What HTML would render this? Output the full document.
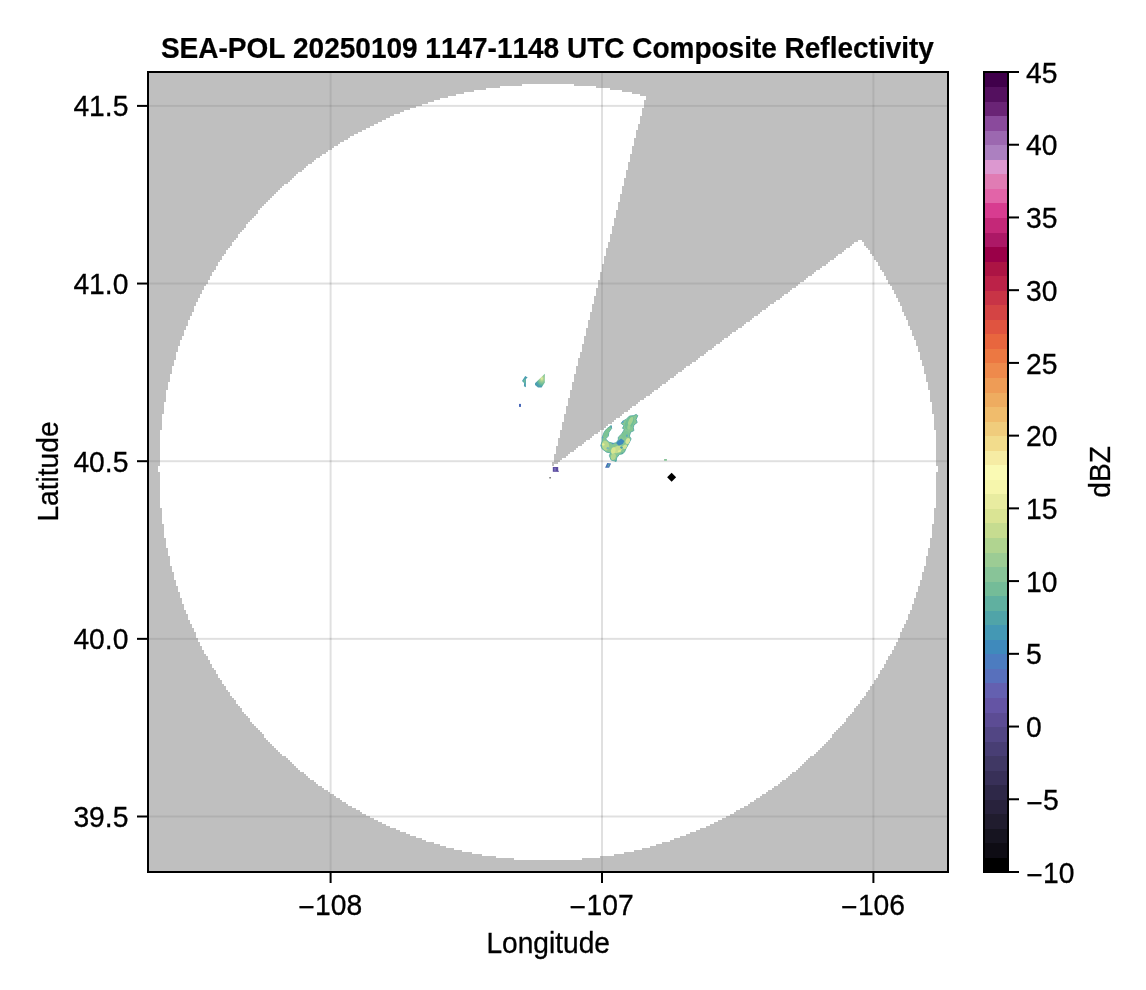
<!DOCTYPE html>
<html lang="en"><head><meta charset="utf-8"><title>SEA-POL Composite Reflectivity</title>
<style>
html,body{margin:0;padding:0;background:#fff;}
body{width:1146px;height:990px;overflow:hidden;}
svg{display:block;}
text{font-family:"Liberation Sans",Arial,Helvetica,sans-serif;font-size:28px;fill:#000;stroke:#000;stroke-width:0.3px;}
.b{font-weight:bold;font-kerning:none;stroke-width:0.2px;}
</style></head><body>
<svg width="1146" height="990" viewBox="0 0 1146 990">
<rect x="0" y="0" width="1146" height="990" fill="#fff"/>
<defs><clipPath id="ax"><rect x="148" y="72" width="800" height="800"/></clipPath>
<linearGradient id="g1" x1="0" y1="1" x2="1" y2="0"><stop offset="0" stop-color="#a8d48e"/><stop offset="0.45" stop-color="#8cc894"/><stop offset="1" stop-color="#74bc98"/></linearGradient>
<radialGradient id="g2" cx="0.7" cy="0.35" r="0.6"><stop offset="0" stop-color="#eef0a4"/><stop offset="0.3" stop-color="#a8d292"/><stop offset="0.75" stop-color="#62b89c"/><stop offset="1" stop-color="#4c9eb0"/></radialGradient>
<filter id="bl" x="-20%" y="-20%" width="140%" height="140%"><feGaussianBlur stdDeviation="0.7"/></filter><clipPath id="bc"><polygon points="636.1,414.4 637.8,415.6 636.1,419.4 637.2,422.5 633.9,425.0 633.3,427.8 633.9,430.6 630.6,432.2 629.4,436.1 631.1,438.9 628.9,443.3 626.1,448.3 624.4,452.2 622.2,453.9 619.4,454.4 616.7,457.8 616.1,461.4 611.1,460.0 609.4,455.6 610.6,452.8 606.7,452.2 602.2,448.9 600.8,445.6 602.2,441.1 602.2,437.2 604.4,431.7 606.7,428.9 611.1,425.6 611.7,428.3 608.9,432.2 608.3,436.1 605.6,438.9 608.9,442.2 613.3,443.3 616.1,442.8 618.3,440.0 618.3,437.2 621.7,433.9 624.4,429.4 622.5,428.3 623.9,425.6 621.1,423.3 622.8,421.1 626.1,419.4 629.4,416.1 633.9,415.6"/></clipPath>
</defs>
<rect x="329.60" y="72" width="2" height="800" fill="rgba(0,0,0,0.12)"/>
<rect x="601.00" y="72" width="2" height="800" fill="rgba(0,0,0,0.12)"/>
<rect x="872.40" y="72" width="2" height="800" fill="rgba(0,0,0,0.12)"/>
<rect x="148" y="104.90" width="800" height="2" fill="rgba(0,0,0,0.12)"/>
<rect x="148" y="282.55" width="800" height="2" fill="rgba(0,0,0,0.12)"/>
<rect x="148" y="460.20" width="800" height="2" fill="rgba(0,0,0,0.12)"/>
<rect x="148" y="637.85" width="800" height="2" fill="rgba(0,0,0,0.12)"/>
<rect x="148" y="815.50" width="800" height="2" fill="rgba(0,0,0,0.12)"/>
<g clip-path="url(#ax)">
<path fill-rule="evenodd" fill="rgba(128,128,128,0.5)" d="M148,72H948V872H148ZM522,84H574V86H522ZM500,86H596V88H500ZM486,88H610V90H486ZM474,90H622V92H474ZM464,92H632V94H464ZM456,94H640V96H456ZM448,96H646V98H448ZM440,98H646V100H440ZM434,100H644V102H434ZM428,102H644V104H428ZM422,104H644V106H422ZM416,106H644V108H416ZM410,108H642V110H410ZM404,110H642V112H404ZM400,112H642V114H400ZM394,114H642V116H394ZM390,116H640V118H390ZM386,118H640V120H386ZM382,120H640V122H382ZM378,122H640V124H378ZM374,124H638V126H374ZM370,126H638V128H370ZM366,128H638V130H366ZM362,130H636V132H362ZM358,132H636V134H358ZM354,134H636V136H354ZM350,136H636V138H350ZM348,138H634V140H348ZM344,140H634V142H344ZM340,142H634V144H340ZM338,144H634V146H338ZM334,146H632V148H334ZM332,148H632V150H332ZM328,150H632V152H328ZM326,152H632V154H326ZM322,154H630V156H322ZM320,156H630V158H320ZM316,158H630V160H316ZM314,160H630V162H314ZM312,162H628V164H312ZM308,164H628V166H308ZM306,166H628V168H306ZM304,168H628V170H304ZM302,170H626V172H302ZM298,172H626V174H298ZM296,174H626V176H296ZM294,176H626V178H294ZM292,178H624V180H292ZM290,180H624V182H290ZM288,182H624V184H288ZM284,184H624V186H284ZM282,186H622V188H282ZM280,188H622V190H280ZM278,190H622V192H278ZM276,192H622V194H276ZM274,194H620V196H274ZM272,196H620V198H272ZM270,198H620V200H270ZM268,200H620V202H268ZM266,202H618V204H266ZM264,204H618V206H264ZM262,206H618V208H262ZM260,208H618V210H260ZM258,210H616V214H258ZM256,214H616V216H256ZM254,216H616V218H254ZM252,218H614V220H252ZM250,220H614V222H250ZM248,222H614V224H248ZM246,224H614V226H246ZM246,226H612V228H246ZM244,228H612V230H244ZM242,230H612V232H242ZM240,232H612V234H240ZM238,234H610V238H238ZM236,238H610V240H236ZM234,240H610V242H234ZM858,240H862V242H858ZM232,242H608V244H232ZM854,242H864V244H854ZM232,244H608V246H232ZM852,244H864V246H852ZM230,246H608V248H230ZM850,246H866V248H850ZM228,248H606V250H228ZM846,248H868V250H846ZM226,250H606V252H226ZM844,250H870V252H844ZM226,252H606V254H226ZM842,252H870V254H842ZM224,254H606V256H224ZM838,254H872V256H838ZM222,256H604V258H222ZM836,256H874V258H836ZM222,258H604V260H222ZM834,258H874V260H834ZM220,260H604V262H220ZM830,260H876V262H830ZM218,262H604V264H218ZM828,262H878V264H828ZM218,264H602V266H218ZM826,264H878V266H826ZM216,266H602V268H216ZM822,266H880V268H822ZM216,268H602V270H216ZM820,268H880V270H820ZM214,270H602V272H214ZM816,270H882V272H816ZM212,272H600V274H212ZM814,272H884V274H814ZM212,274H600V276H212ZM812,274H884V276H812ZM210,276H600V278H210ZM808,276H886V278H808ZM210,278H600V280H210ZM806,278H886V280H806ZM208,280H598V282H208ZM804,280H888V282H804ZM208,282H598V284H208ZM800,282H888V284H800ZM206,284H598V286H206ZM798,284H890V286H798ZM204,286H598V288H204ZM796,286H892V288H796ZM204,288H596V290H204ZM792,288H892V290H792ZM202,290H596V292H202ZM790,290H894V292H790ZM202,292H596V294H202ZM788,292H894V294H788ZM200,294H596V296H200ZM784,294H896V296H784ZM200,296H594V298H200ZM782,296H896V298H782ZM198,298H594V300H198ZM780,298H898V300H780ZM198,300H594V302H198ZM776,300H898V302H776ZM196,302H594V304H196ZM774,302H900V304H774ZM196,304H592V306H196ZM770,304H900V306H770ZM194,306H592V308H194ZM768,306H902V308H768ZM194,308H592V310H194ZM766,308H902V310H766ZM194,310H592V312H194ZM762,310H902V312H762ZM192,312H590V314H192ZM760,312H904V314H760ZM192,314H590V316H192ZM758,314H904V316H758ZM190,316H590V318H190ZM754,316H906V318H754ZM190,318H590V320H190ZM752,318H906V320H752ZM188,320H588V322H188ZM750,320H908V322H750ZM188,322H588V324H188ZM746,322H908V324H746ZM188,324H588V326H188ZM744,324H908V326H744ZM186,326H588V328H186ZM742,326H910V328H742ZM186,328H586V330H186ZM738,328H910V330H738ZM184,330H586V332H184ZM736,330H912V332H736ZM184,332H586V334H184ZM732,332H912V334H732ZM184,334H586V336H184ZM730,334H912V336H730ZM182,336H584V338H182ZM728,336H914V338H728ZM182,338H584V340H182ZM724,338H914V340H724ZM180,340H584V342H180ZM722,340H916V342H722ZM180,342H584V344H180ZM720,342H916V344H720ZM180,344H582V346H180ZM716,344H916V346H716ZM178,346H582V348H178ZM714,346H918V348H714ZM178,348H582V350H178ZM712,348H918V350H712ZM178,350H582V352H178ZM708,350H918V352H708ZM176,352H580V354H176ZM706,352H920V354H706ZM176,354H580V356H176ZM704,354H920V356H704ZM176,356H580V358H176ZM700,356H920V358H700ZM176,358H578V360H176ZM698,358H920V360H698ZM174,360H578V362H174ZM696,360H922V362H696ZM174,362H578V364H174ZM692,362H922V364H692ZM174,364H578V366H174ZM690,364H922V366H690ZM172,366H576V368H172ZM686,366H924V368H686ZM172,368H576V370H172ZM684,368H924V370H684ZM172,370H576V372H172ZM682,370H924V372H682ZM172,372H576V374H172ZM678,372H924V374H678ZM170,374H574V376H170ZM676,374H926V376H676ZM170,376H574V378H170ZM674,376H926V378H674ZM170,378H574V380H170ZM670,378H926V380H670ZM170,380H574V382H170ZM668,380H926V382H668ZM168,382H572V384H168ZM666,382H928V384H666ZM168,384H572V386H168ZM662,384H928V386H662ZM168,386H572V388H168ZM660,386H928V388H660ZM168,388H572V390H168ZM658,388H928V390H658ZM166,390H570V392H166ZM654,390H930V392H654ZM166,392H570V394H166ZM652,392H930V394H652ZM166,394H570V396H166ZM650,394H930V396H650ZM166,396H570V398H166ZM646,396H930V398H646ZM166,398H568V400H166ZM644,398H930V400H644ZM166,400H568V402H166ZM640,400H930V402H640ZM164,402H568V404H164ZM638,402H932V404H638ZM164,404H568V406H164ZM636,404H932V406H636ZM164,406H566V408H164ZM632,406H932V408H632ZM164,408H566V410H164ZM630,408H932V410H630ZM164,410H566V412H164ZM628,410H932V412H628ZM164,412H566V414H164ZM624,412H932V414H624ZM162,414H564V416H162ZM622,414H934V416H622ZM162,416H564V418H162ZM620,416H934V418H620ZM162,418H564V420H162ZM616,418H934V420H616ZM162,420H564V422H162ZM614,420H934V422H614ZM162,422H562V424H162ZM612,422H934V424H612ZM162,424H562V426H162ZM608,424H934V426H608ZM162,426H562V428H162ZM606,426H934V428H606ZM162,428H562V430H162ZM604,428H934V430H604ZM160,430H560V432H160ZM600,430H936V432H600ZM160,432H560V434H160ZM598,432H936V434H598ZM160,434H560V436H160ZM594,434H936V436H594ZM160,436H560V438H160ZM592,436H936V438H592ZM160,438H558V440H160ZM590,438H936V440H590ZM160,440H558V442H160ZM586,440H936V442H586ZM160,442H558V444H160ZM584,442H936V444H584ZM160,444H558V446H160ZM582,444H936V446H582ZM160,446H556V448H160ZM578,446H936V448H578ZM160,448H556V450H160ZM576,448H936V450H576ZM160,450H556V452H160ZM574,450H936V452H574ZM160,452H556V454H160ZM570,452H936V454H570ZM160,454H554V456H160ZM568,454H936V456H568ZM160,456H554V458H160ZM566,456H936V458H566ZM160,458H554V460H160ZM562,458H936V460H562ZM160,460H554V462H160ZM560,460H936V462H560ZM160,462H552V464H160ZM558,462H936V464H558ZM160,464H552V466H160ZM554,464H936V466H554ZM158,466H938V472H158ZM160,472H936V508H160ZM162,508H934V524H162ZM164,524H932V538H164ZM166,538H930V548H166ZM168,548H928V556H168ZM170,556H926V566H170ZM172,566H924V572H172ZM174,572H922V580H174ZM176,580H920V586H176ZM178,586H918V592H178ZM180,592H916V598H180ZM182,598H914V604H182ZM184,604H912V610H184ZM186,610H910V614H186ZM188,614H908V620H188ZM190,620H906V624H190ZM192,624H904V628H192ZM194,628H902V632H194ZM196,632H900V638H196ZM198,638H898V642H198ZM200,642H896V646H200ZM202,646H894V650H202ZM204,650H892V654H204ZM206,654H890V656H206ZM208,656H888V660H208ZM210,660H886V664H210ZM212,664H884V668H212ZM214,668H882V670H214ZM216,670H880V674H216ZM218,674H878V678H218ZM220,678H876V680H220ZM222,680H874V684H222ZM224,684H872V686H224ZM226,686H870V690H226ZM228,690H868V692H228ZM230,692H866V696H230ZM232,696H864V698H232ZM234,698H862V700H234ZM236,700H860V704H236ZM238,704H858V706H238ZM240,706H856V708H240ZM242,708H854V712H242ZM244,712H852V714H244ZM246,714H850V716H246ZM248,716H848V718H248ZM250,718H846V722H250ZM252,722H844V724H252ZM254,724H842V726H254ZM256,726H840V728H256ZM258,728H838V730H258ZM260,730H836V732H260ZM262,732H834V734H262ZM264,734H832V738H264ZM266,738H830V740H266ZM268,740H828V742H268ZM270,742H826V744H270ZM272,744H824V746H272ZM274,746H822V748H274ZM276,748H820V750H276ZM278,750H818V752H278ZM280,752H816V754H280ZM282,754H814V756H282ZM286,756H810V758H286ZM288,758H808V760H288ZM290,760H806V762H290ZM292,762H804V764H292ZM294,764H802V766H294ZM296,766H800V768H296ZM298,768H798V770H298ZM300,770H796V772H300ZM304,772H792V774H304ZM306,774H790V776H306ZM308,776H788V778H308ZM310,778H786V780H310ZM314,780H782V782H314ZM316,782H780V784H316ZM318,784H778V786H318ZM322,786H774V788H322ZM324,788H772V790H324ZM328,790H768V792H328ZM330,792H766V794H330ZM334,794H762V796H334ZM336,796H760V798H336ZM340,798H756V800H340ZM342,800H754V802H342ZM346,802H750V804H346ZM348,804H748V806H348ZM352,806H744V808H352ZM356,808H740V810H356ZM360,810H736V812H360ZM362,812H734V814H362ZM366,814H730V816H366ZM370,816H726V818H370ZM374,818H722V820H374ZM378,820H718V822H378ZM382,822H714V824H382ZM386,824H710V826H386ZM390,826H706V828H390ZM396,828H700V830H396ZM400,830H696V832H400ZM406,832H690V834H406ZM410,834H686V836H410ZM416,836H680V838H416ZM422,838H674V840H422ZM426,840H670V842H426ZM434,842H662V844H434ZM440,844H656V846H440ZM446,846H650V848H446ZM454,848H642V850H454ZM462,850H634V852H462ZM472,852H624V854H472ZM482,854H614V856H482ZM496,856H600V858H496ZM514,858H582V860H514Z"/>
<polygon points="636.1,414.4 637.8,415.6 636.1,419.4 637.2,422.5 633.9,425.0 633.3,427.8 633.9,430.6 630.6,432.2 629.4,436.1 631.1,438.9 628.9,443.3 626.1,448.3 624.4,452.2 622.2,453.9 619.4,454.4 616.7,457.8 616.1,461.4 611.1,460.0 609.4,455.6 610.6,452.8 606.7,452.2 602.2,448.9 600.8,445.6 602.2,441.1 602.2,437.2 604.4,431.7 606.7,428.9 611.1,425.6 611.7,428.3 608.9,432.2 608.3,436.1 605.6,438.9 608.9,442.2 613.3,443.3 616.1,442.8 618.3,440.0 618.3,437.2 621.7,433.9 624.4,429.4 622.5,428.3 623.9,425.6 621.1,423.3 622.8,421.1 626.1,419.4 629.4,416.1 633.9,415.6" fill="#86c694" stroke="#56aaa4" stroke-width="0.9" stroke-linejoin="round"/>
<g clip-path="url(#bc)"><g filter="url(#bl)">
<ellipse cx="629.4" cy="422.8" rx="3.89" ry="7.22" fill="#6fbf96" opacity="1" transform="rotate(25 629.4 422.8)"/>
<ellipse cx="630.6" cy="421.1" rx="1.94" ry="4.44" fill="#a4d292" opacity="1" transform="rotate(25 630.6 421.1)"/>
<ellipse cx="628.9" cy="427.2" rx="1.67" ry="2.50" fill="#98ce92" opacity="1" transform="rotate(10 628.9 427.2)"/>
<ellipse cx="625.0" cy="434.4" rx="3.89" ry="2.78" fill="#7cc494" opacity="1" transform="rotate(-30 625.0 434.4)"/>
<ellipse cx="627.8" cy="441.1" rx="2.22" ry="3.06" fill="#d6e69a" opacity="1" transform="rotate(20 627.8 441.1)"/>
<ellipse cx="625.0" cy="446.7" rx="2.50" ry="1.94" fill="#cfe294" opacity="1" transform="rotate(-30 625.0 446.7)"/>
<ellipse cx="617.2" cy="449.4" rx="6.11" ry="3.33" fill="#c4dc8e" opacity="1" transform="rotate(-25 617.2 449.4)"/>
<ellipse cx="613.3" cy="450.6" rx="2.22" ry="3.33" fill="#d8e690" opacity="1" transform="rotate(10 613.3 450.6)"/>
<ellipse cx="619.4" cy="451.1" rx="1.67" ry="1.11" fill="#e0ea92" opacity="1" transform="rotate(-20 619.4 451.1)"/>
<ellipse cx="613.3" cy="456.7" rx="2.50" ry="3.33" fill="#b4d68e" opacity="1" transform="rotate(15 613.3 456.7)"/>
<ellipse cx="605.6" cy="445.6" rx="3.61" ry="5.00" fill="#b6d88e" opacity="1" transform="rotate(-15 605.6 445.6)"/>
<ellipse cx="603.3" cy="444.4" rx="1.22" ry="1.22" fill="#e6ee92" opacity="1" transform="rotate(0 603.3 444.4)"/>
<ellipse cx="607.8" cy="448.3" rx="1.22" ry="1.22" fill="#7ab8b4" opacity="1" transform="rotate(0 607.8 448.3)"/>
<ellipse cx="606.9" cy="432.2" rx="1.94" ry="5.28" fill="#7cc494" opacity="1" transform="rotate(25 606.9 432.2)"/>
</g></g>
<ellipse cx="626.9" cy="435.8" rx="0.89" ry="1.22" fill="#5aa6c0" opacity="1" transform="rotate(0 626.9 435.8)"/>
<ellipse cx="622.8" cy="421.9" rx="0.89" ry="1.22" fill="#5aa6c8" opacity="1" transform="rotate(0 622.8 421.9)"/>
<ellipse cx="611.1" cy="426.7" rx="0.56" ry="1.22" fill="#4a9ab8" opacity="1" transform="rotate(20 611.1 426.7)"/>
<ellipse cx="602.8" cy="437.5" rx="0.78" ry="0.78" fill="#5aa0c0" opacity="1" transform="rotate(0 602.8 437.5)"/>
<ellipse cx="615.8" cy="460.8" rx="0.67" ry="0.78" fill="#48a0a8" opacity="1" transform="rotate(0 615.8 460.8)"/>
<ellipse cx="622.2" cy="453.1" rx="0.89" ry="0.67" fill="#48a0a0" opacity="1" transform="rotate(0 622.2 453.1)"/>
<ellipse cx="612.8" cy="443.6" rx="1.22" ry="0.67" fill="#4a94c0" opacity="1" transform="rotate(0 612.8 443.6)"/>
<ellipse cx="601.4" cy="445.8" rx="0.44" ry="0.78" fill="#5a90c8" opacity="1" transform="rotate(0 601.4 445.8)"/>
<polygon points="621.1,438.6 624.4,441.1 622.8,443.9 618.9,445.8 616.1,443.3 617.8,441.1" fill="#3f8abc" />
<polygon points="621.0,446.0 623.0,447.5 621.8,449.0 620.0,447.8" fill="#48a0a8" />
<polygon points="525.2,375.9 527.7,377.4 525.9,379.1 525.9,387.2 523.9,386.2 524.1,382.9 522.0,380.9" fill="#4a9eb0" />
<polygon points="525.3,378.3 525.4,384.0 524.6,383.0 523.0,380.9" fill="#6cbc9c" />
<polygon points="544.8,373.8 544.8,382.4 541.6,387.5 538.0,387.5 535.0,384.9 535.0,383.2" fill="url(#g2)" />
<rect x="519" y="403.9" width="2" height="3" fill="#4868b8"/>
<rect x="552.8" y="467" width="5.4" height="4.8" fill="#5c4ca0"/>
<rect x="554.2" y="467.8" width="1.6" height="3" fill="#7c74c0"/>
<rect x="557.6" y="470.8" width="1.2" height="1" fill="#5c4ca0"/>
<rect x="549.4" y="477.2" width="1.4" height="1.2" fill="#404040"/>
<polygon points="607.2,463.0 611.1,463.4 609.1,467.7 605.1,467.7" fill="#4470b8" />
<polygon points="608.3,464.2 609.8,464.4 608.6,466.4 607.3,466.4" fill="#60b0a0" />
<rect x="664.1" y="459" width="2.8" height="1.8" fill="#88c498"/>
</g>
<polygon points="671.6,472.8 676.1,477.3 671.6,481.8 667.1,477.3" fill="#000"/>
<rect x="148" y="72" width="800" height="800" fill="none" stroke="#000" stroke-width="2"/>
<rect x="329.60" y="873" width="2" height="10" fill="#000"/>
<text transform="translate(330.1,914.6) scale(1.01,1.05)" text-anchor="middle"><tspan dy="2.5">−</tspan><tspan dy="-2.5" dx="0.6">108</tspan></text>
<rect x="601.00" y="873" width="2" height="10" fill="#000"/>
<text transform="translate(601.5,914.6) scale(1.01,1.05)" text-anchor="middle"><tspan dy="2.5">−</tspan><tspan dy="-2.5" dx="0.6">107</tspan></text>
<rect x="872.40" y="873" width="2" height="10" fill="#000"/>
<text transform="translate(872.9,914.6) scale(1.01,1.05)" text-anchor="middle"><tspan dy="2.5">−</tspan><tspan dy="-2.5" dx="0.6">106</tspan></text>
<rect x="137" y="104.90" width="10" height="2" fill="#000"/>
<text transform="translate(128.4,116.4) scale(1.01,1.05)" text-anchor="end">41.5</text>
<rect x="137" y="282.55" width="10" height="2" fill="#000"/>
<text transform="translate(128.4,294.0) scale(1.01,1.05)" text-anchor="end">41.0</text>
<rect x="137" y="460.20" width="10" height="2" fill="#000"/>
<text transform="translate(128.4,471.7) scale(1.01,1.05)" text-anchor="end">40.5</text>
<rect x="137" y="637.85" width="10" height="2" fill="#000"/>
<text transform="translate(128.4,649.4) scale(1.01,1.05)" text-anchor="end">40.0</text>
<rect x="137" y="815.50" width="10" height="2" fill="#000"/>
<text transform="translate(128.4,827.0) scale(1.01,1.05)" text-anchor="end">39.5</text>
<text class="b" transform="translate(547.4,57.7) scale(1,1.075)" text-anchor="middle" textLength="773" lengthAdjust="spacingAndGlyphs">SEA-POL 20250109 1147-1148 UTC Composite Reflectivity</text>
<text transform="translate(548.2,953.2) scale(1.005,1.035)" text-anchor="middle">Longitude</text>
<text transform="translate(58.2,471.5) rotate(-90) scale(1.005,1.035)" text-anchor="middle">Latitude</text>
<rect x="984" y="857.45" width="24" height="15.05" fill="#000000" shape-rendering="crispEdges"/>
<rect x="984" y="842.91" width="24" height="15.05" fill="#0e0c14" shape-rendering="crispEdges"/>
<rect x="984" y="828.36" width="24" height="15.05" fill="#161420" shape-rendering="crispEdges"/>
<rect x="984" y="813.82" width="24" height="15.05" fill="#201c2e" shape-rendering="crispEdges"/>
<rect x="984" y="799.27" width="24" height="15.05" fill="#28223c" shape-rendering="crispEdges"/>
<rect x="984" y="784.73" width="24" height="15.05" fill="#2e2848" shape-rendering="crispEdges"/>
<rect x="984" y="770.18" width="24" height="15.05" fill="#383058" shape-rendering="crispEdges"/>
<rect x="984" y="755.64" width="24" height="15.05" fill="#403864" shape-rendering="crispEdges"/>
<rect x="984" y="741.09" width="24" height="15.05" fill="#483e74" shape-rendering="crispEdges"/>
<rect x="984" y="726.55" width="24" height="15.05" fill="#524684" shape-rendering="crispEdges"/>
<rect x="984" y="712.00" width="24" height="15.05" fill="#5c4c94" shape-rendering="crispEdges"/>
<rect x="984" y="697.45" width="24" height="15.05" fill="#6454a4" shape-rendering="crispEdges"/>
<rect x="984" y="682.91" width="24" height="15.05" fill="#6460b0" shape-rendering="crispEdges"/>
<rect x="984" y="668.36" width="24" height="15.05" fill="#5870bc" shape-rendering="crispEdges"/>
<rect x="984" y="653.82" width="24" height="15.05" fill="#4c7cc0" shape-rendering="crispEdges"/>
<rect x="984" y="639.27" width="24" height="15.05" fill="#3f8abc" shape-rendering="crispEdges"/>
<rect x="984" y="624.73" width="24" height="15.05" fill="#4498b4" shape-rendering="crispEdges"/>
<rect x="984" y="610.18" width="24" height="15.05" fill="#50a4a8" shape-rendering="crispEdges"/>
<rect x="984" y="595.64" width="24" height="15.05" fill="#60b0a0" shape-rendering="crispEdges"/>
<rect x="984" y="581.09" width="24" height="15.05" fill="#74bc98" shape-rendering="crispEdges"/>
<rect x="984" y="566.55" width="24" height="15.05" fill="#88c498" shape-rendering="crispEdges"/>
<rect x="984" y="552.00" width="24" height="15.05" fill="#9ccc94" shape-rendering="crispEdges"/>
<rect x="984" y="537.45" width="24" height="15.05" fill="#b0d490" shape-rendering="crispEdges"/>
<rect x="984" y="522.91" width="24" height="15.05" fill="#c6dc90" shape-rendering="crispEdges"/>
<rect x="984" y="508.36" width="24" height="15.05" fill="#dae494" shape-rendering="crispEdges"/>
<rect x="984" y="493.82" width="24" height="15.05" fill="#e8eca0" shape-rendering="crispEdges"/>
<rect x="984" y="479.27" width="24" height="15.05" fill="#f6f6ac" shape-rendering="crispEdges"/>
<rect x="984" y="464.73" width="24" height="15.05" fill="#fafab4" shape-rendering="crispEdges"/>
<rect x="984" y="450.18" width="24" height="15.05" fill="#f6eca4" shape-rendering="crispEdges"/>
<rect x="984" y="435.64" width="24" height="15.05" fill="#f2dc8c" shape-rendering="crispEdges"/>
<rect x="984" y="421.09" width="24" height="15.05" fill="#f0cc7c" shape-rendering="crispEdges"/>
<rect x="984" y="406.55" width="24" height="15.05" fill="#f0bc6c" shape-rendering="crispEdges"/>
<rect x="984" y="392.00" width="24" height="15.05" fill="#eeac60" shape-rendering="crispEdges"/>
<rect x="984" y="377.45" width="24" height="15.05" fill="#ee9c56" shape-rendering="crispEdges"/>
<rect x="984" y="362.91" width="24" height="15.05" fill="#ee8a4c" shape-rendering="crispEdges"/>
<rect x="984" y="348.36" width="24" height="15.05" fill="#ec7842" shape-rendering="crispEdges"/>
<rect x="984" y="333.82" width="24" height="15.05" fill="#e8663e" shape-rendering="crispEdges"/>
<rect x="984" y="319.27" width="24" height="15.05" fill="#e05440" shape-rendering="crispEdges"/>
<rect x="984" y="304.73" width="24" height="15.05" fill="#d44444" shape-rendering="crispEdges"/>
<rect x="984" y="290.18" width="24" height="15.05" fill="#c83446" shape-rendering="crispEdges"/>
<rect x="984" y="275.64" width="24" height="15.05" fill="#bc2248" shape-rendering="crispEdges"/>
<rect x="984" y="261.09" width="24" height="15.05" fill="#ac1444" shape-rendering="crispEdges"/>
<rect x="984" y="246.55" width="24" height="15.05" fill="#9a0048" shape-rendering="crispEdges"/>
<rect x="984" y="232.00" width="24" height="15.05" fill="#ac1866" shape-rendering="crispEdges"/>
<rect x="984" y="217.45" width="24" height="15.05" fill="#c42878" shape-rendering="crispEdges"/>
<rect x="984" y="202.91" width="24" height="15.05" fill="#d83c90" shape-rendering="crispEdges"/>
<rect x="984" y="188.36" width="24" height="15.05" fill="#e264a8" shape-rendering="crispEdges"/>
<rect x="984" y="173.82" width="24" height="15.05" fill="#e07cb4" shape-rendering="crispEdges"/>
<rect x="984" y="159.27" width="24" height="15.05" fill="#dc98d0" shape-rendering="crispEdges"/>
<rect x="984" y="144.73" width="24" height="15.05" fill="#ac80c0" shape-rendering="crispEdges"/>
<rect x="984" y="130.18" width="24" height="15.05" fill="#9c68b0" shape-rendering="crispEdges"/>
<rect x="984" y="115.64" width="24" height="15.05" fill="#8a4a9c" shape-rendering="crispEdges"/>
<rect x="984" y="101.09" width="24" height="15.05" fill="#6a2476" shape-rendering="crispEdges"/>
<rect x="984" y="86.55" width="24" height="15.05" fill="#54105f" shape-rendering="crispEdges"/>
<rect x="984" y="72.00" width="24" height="15.05" fill="#40004b" shape-rendering="crispEdges"/>
<rect x="984" y="72" width="24" height="800" fill="none" stroke="#000" stroke-width="2"/>
<rect x="1009" y="871.00" width="10" height="2" fill="#000"/>
<text transform="translate(1026.0,882.6) scale(1.01,1.05)"><tspan dy="2.5">−</tspan><tspan dy="-2.5" dx="0.6">10</tspan></text>
<rect x="1009" y="798.27" width="10" height="2" fill="#000"/>
<text transform="translate(1026.0,809.9) scale(1.01,1.05)"><tspan dy="2.5">−</tspan><tspan dy="-2.5" dx="0.6">5</tspan></text>
<rect x="1009" y="725.55" width="10" height="2" fill="#000"/>
<text transform="translate(1026.0,737.1) scale(1.01,1.05)">0</text>
<rect x="1009" y="652.82" width="10" height="2" fill="#000"/>
<text transform="translate(1026.0,664.4) scale(1.01,1.05)">5</text>
<rect x="1009" y="580.09" width="10" height="2" fill="#000"/>
<text transform="translate(1026.0,591.7) scale(1.01,1.05)">10</text>
<rect x="1009" y="507.36" width="10" height="2" fill="#000"/>
<text transform="translate(1026.0,519.0) scale(1.01,1.05)">15</text>
<rect x="1009" y="434.64" width="10" height="2" fill="#000"/>
<text transform="translate(1026.0,446.2) scale(1.01,1.05)">20</text>
<rect x="1009" y="361.91" width="10" height="2" fill="#000"/>
<text transform="translate(1026.0,373.5) scale(1.01,1.05)">25</text>
<rect x="1009" y="289.18" width="10" height="2" fill="#000"/>
<text transform="translate(1026.0,300.8) scale(1.01,1.05)">30</text>
<rect x="1009" y="216.45" width="10" height="2" fill="#000"/>
<text transform="translate(1026.0,228.1) scale(1.01,1.05)">35</text>
<rect x="1009" y="143.73" width="10" height="2" fill="#000"/>
<text transform="translate(1026.0,155.3) scale(1.01,1.05)">40</text>
<rect x="1009" y="71.00" width="10" height="2" fill="#000"/>
<text transform="translate(1026.0,82.6) scale(1.01,1.05)">45</text>
<text transform="translate(1110,471.9) rotate(-90) scale(1.005,1.035)" text-anchor="middle">dBZ</text>
</svg></body></html>
